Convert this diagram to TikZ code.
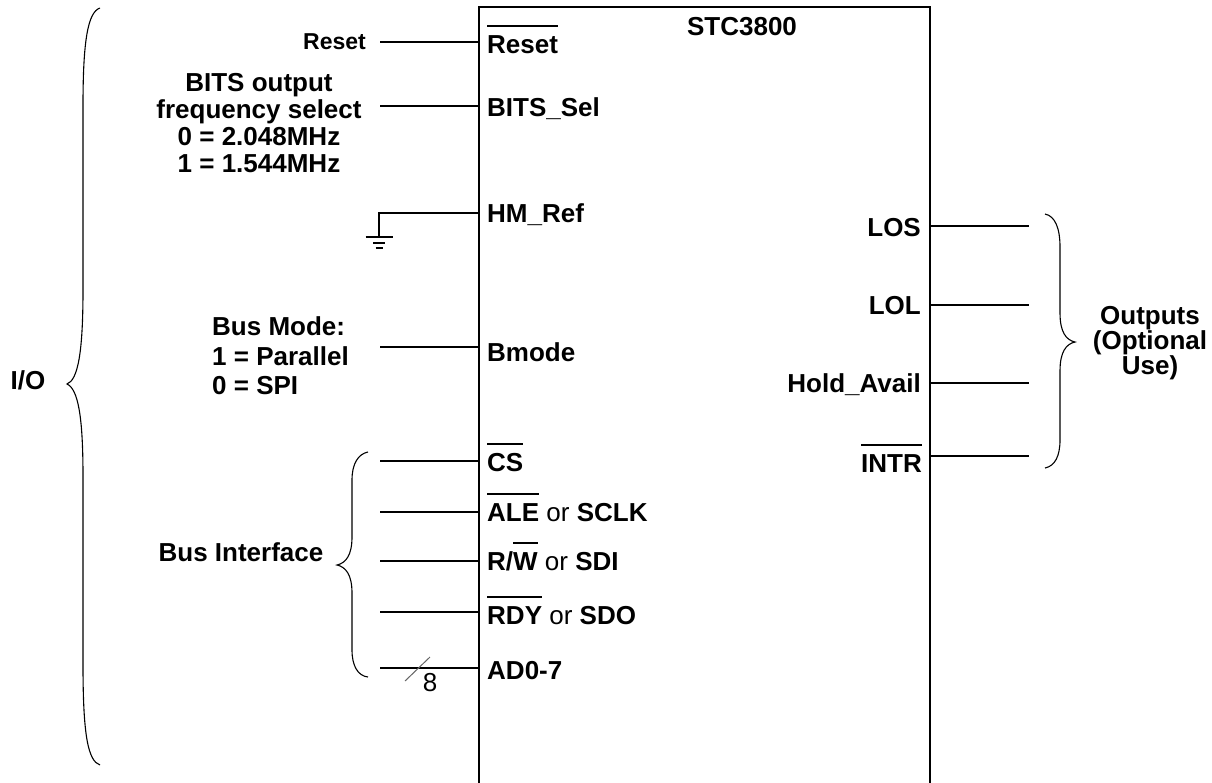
\documentclass[tikz,border=0pt]{standalone}
\usepackage{fontspec}
\setmainfont{Liberation Sans}
\newcommand{\ovl}[1]{\leavevmode\vbox{\hrule height 2pt\kern 8pt\hbox{#1}}}
\begin{document}
\begin{tikzpicture}[x=1pt,y=-1pt,
  lbl/.style={font=\fontsize{26}{28}\selectfont\bfseries, inner sep=0pt},
  pinl/.style={lbl, anchor=base west},
  pinr/.style={lbl, anchor=base east},
  wire/.style={line width=2pt},
  bracecurve/.style={line width=1.1pt},
  chipedge/.style={line width=2pt}]
\useasboundingbox (0,0) rectangle (1212,782);

% chip outline (bottom runs off the page)
\coordinate (bl) at (479,800);
\coordinate (tl) at (479,7);
\coordinate (tr) at (930,7);
\coordinate (br) at (930,800);
\draw[chipedge] (bl) -- (tl) -- (tr) -- (br);
\node[lbl] (title) at (742,27) {STC3800};

% left pins
\foreach \n/\y in {Reset/42, Bits/106, HM/213, Bmode/347, CS/461, ALE/512, RW/561, RDY/612, AD/668}{
  \coordinate (p\n) at (479,\y);
  \coordinate (e\n) at (380,\y);
}
\coordinate (eHM) at (379,213);
\foreach \n in {Reset, Bits, Bmode, CS, ALE, RW, RDY, AD}{
  \draw[wire] (e\n) -- (p\n);
}
\node[pinl] (lReset) at (487,53) {\ovl{Reset}};
\node[pinl] (lBits) at (487,116) {BITS\_Sel};
\node[pinl] (lHM) at (487,222) {HM\_Ref};
\node[pinl] (lBmode) at (487,361) {Bmode};
\node[pinl] (lCS) at (487,471) {\ovl{CS}};
\node[pinl] (lALE) at (487,521) {\ovl{ALE} {\mdseries or} SCLK};
\node[pinl] (lRW) at (487,570) {R/\ovl{W} {\mdseries or} SDI};
\node[pinl] (lRDY) at (487,624) {\ovl{RDY} {\mdseries or} SDO};
\node[pinl] (lAD) at (487,679) {AD0-7};

% ground on HM_Ref
\coordinate (gnd) at (379,237);
\draw[wire] (pHM) -- (eHM) -- (gnd);
\draw[wire] (gnd) ++(-13.5,0) -- ++(27,0);
\draw[wire] (gnd) ++(-6,5.5) -- ++(12,0);
\draw[wire] (gnd) ++(-3.5,11) -- ++(7,0);

% bus width mark
\coordinate (s1) at (405,681);
\coordinate (s2) at (430,657);
\draw[gray!80!black, line width=1pt] (s1) -- (s2);
\node[font=\fontsize{26}{28}\selectfont, inner sep=0pt] (w8) at (430,683) {8};

% left side texts
\node[lbl, font=\fontsize{23}{26}\selectfont\bfseries, anchor=base east] (tReset) at (366,49.5) {Reset};
\node[lbl, align=center, font=\fontsize{26}{26.7}\selectfont\bfseries] (tBits) at (259,123)
  {BITS output\\frequency select\\0 = 2.048MHz\\1 = 1.544MHz};
\node[lbl, align=left, anchor=west, font=\fontsize{26}{29.5}\selectfont\bfseries] (tBmode) at (212,356)
  {Bus Mode:\\1 = Parallel\\0 = SPI};
\node[lbl] (tBus) at (241,552) {Bus Interface};
\node[lbl] (tIO) at (28,380) {I/O};

% right pins
\foreach \n/\y in {LOS/226, LOL/305, Hold/383, INTR/456}{
  \coordinate (p\n) at (930,\y);
  \coordinate (e\n) at (1029,\y);
  \draw[wire] (p\n) -- (e\n);
}
\node[pinr] (lLOS) at (921,236) {LOS};
\node[pinr] (lLOL) at (921,314) {LOL};
\node[pinr] (lHold) at (921,392) {Hold\_Avail};
\node[pinr] (lINTR) at (922,472) {\ovl{INTR}};
\node[lbl, align=center, font=\fontsize{26}{24}\selectfont\bfseries] (tOut) at (1150,343)
  {Outputs\\(Optional\\Use)};

% braces
\draw[bracecurve] (100,8) .. controls (88,12) and (83,40) .. (83,105) -- (83,290)
  .. controls (83,352) and (78,380) .. (67,384)
  .. controls (78,389) and (83,416) .. (83,476) -- (83,665)
  .. controls (83,735) and (88,761) .. (100,765);
\draw[bracecurve] (368,452) .. controls (358,454) and (352,464) .. (352,480) -- (352,537)
  .. controls (352,555) and (346,563) .. (337,565)
  .. controls (346,567) and (352,575) .. (352,593) -- (352,650)
  .. controls (352,666) and (358,676) .. (368,677);
\draw[bracecurve] (1045,214) .. controls (1055,216) and (1060,228) .. (1060,247) -- (1060,313)
  .. controls (1060,332) and (1066,340) .. (1075,342)
  .. controls (1066,344) and (1060,352) .. (1060,371) -- (1060,440)
  .. controls (1060,456) and (1055,466) .. (1045,468);
\end{tikzpicture}
\end{document}
